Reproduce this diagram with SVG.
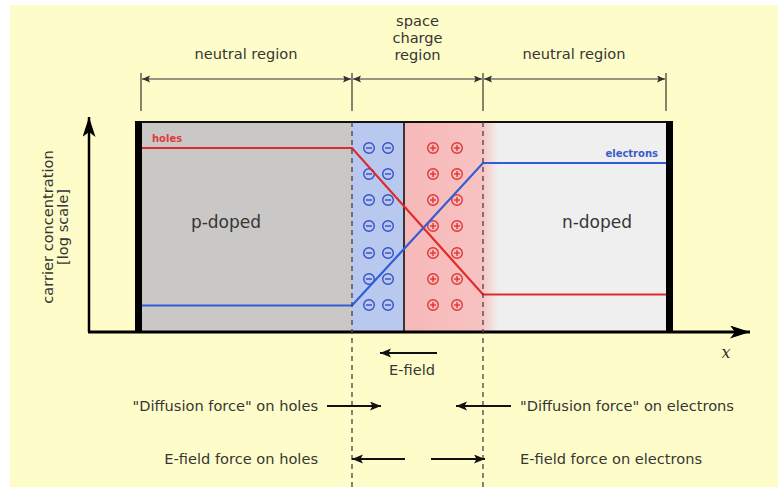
<svg xmlns="http://www.w3.org/2000/svg" width="778" height="487" viewBox="0 0 778 487">
<defs>
<style>
.lbl{font-family:"DejaVu Sans","Liberation Sans",sans-serif;font-size:14.6px;fill:#363636}
.big{font-family:"DejaVu Sans","Liberation Sans",sans-serif;font-size:17px;fill:#363636}
.small{font-family:"DejaVu Sans","Liberation Sans",sans-serif;font-size:10px;font-weight:bold}
.dim{stroke:#333;stroke-width:1.2;fill:none}
.frc{stroke:#111;stroke-width:2;fill:none}
.dash{stroke:#444;stroke-width:1.3;stroke-dasharray:5 4;fill:none}
.minus{stroke:#3550c4;stroke-width:1.4;fill:none}
.plus{stroke:#e03535;stroke-width:1.4;fill:none}
</style>
<linearGradient id="pinkfade" x1="404" y1="0" x2="498" y2="0" gradientUnits="userSpaceOnUse">
<stop offset="0" stop-color="#f7b8b8"/>
<stop offset="0.83" stop-color="#f8c2c2"/>
<stop offset="1" stop-color="#efefef"/>
</linearGradient>
<marker id="dh" markerUnits="userSpaceOnUse" markerWidth="10" markerHeight="8" refX="8" refY="3.5" orient="auto-start-reverse">
<path d="M0,0 L8,3.5 L0,7 L1.5,3.5z" fill="#333"/>
</marker>
<marker id="fh" markerUnits="userSpaceOnUse" markerWidth="12" markerHeight="10" refX="11" refY="4.5" orient="auto-start-reverse">
<path d="M0,0 L11,4.5 L0,9 L2.5,4.5z" fill="#111"/>
</marker>
<marker id="axh" markerUnits="userSpaceOnUse" markerWidth="22" markerHeight="14" refX="20" refY="6.5" orient="auto-start-reverse">
<path d="M0,0 L20,6.5 L0,13 L5,6.5z" fill="#000"/>
</marker>
<g id="mc"><circle r="5.3" class="minus"/><line x1="-3" y1="0" x2="3" y2="0" class="minus"/></g>
<g id="pc"><circle r="5.3" class="plus"/><line x1="-3" y1="0" x2="3" y2="0" class="plus"/><line x1="0" y1="-3" x2="0" y2="3" class="plus"/></g>
</defs>

<rect x="0" y="0" width="778" height="487" fill="#ffffff"/>
<rect x="10" y="5" width="768" height="482" fill="#fefdc9"/>

<g id="regions">
<rect x="141" y="122" width="211" height="210" fill="#c9c8c6"/>
<rect x="483" y="122" width="184" height="210" fill="#efefef"/>
<rect x="352" y="122" width="52" height="210" fill="#b8c8ef"/>
<rect x="404" y="122" width="94" height="210" fill="url(#pinkfade)"/>
</g>

<g id="charges">
<use href="#mc" x="369" y="148"/><use href="#mc" x="388" y="148"/>
<use href="#mc" x="369" y="174"/><use href="#mc" x="388" y="174"/>
<use href="#mc" x="369" y="200"/><use href="#mc" x="388" y="200"/>
<use href="#mc" x="369" y="226"/><use href="#mc" x="388" y="226"/>
<use href="#mc" x="369" y="253"/><use href="#mc" x="388" y="253"/>
<use href="#mc" x="369" y="279"/><use href="#mc" x="388" y="279"/>
<use href="#mc" x="369" y="305"/><use href="#mc" x="388" y="305"/>
<use href="#pc" x="433" y="148"/><use href="#pc" x="457" y="148"/>
<use href="#pc" x="433" y="174"/><use href="#pc" x="457" y="174"/>
<use href="#pc" x="433" y="200"/><use href="#pc" x="457" y="200"/>
<use href="#pc" x="433" y="226"/><use href="#pc" x="457" y="226"/>
<use href="#pc" x="433" y="253"/><use href="#pc" x="457" y="253"/>
<use href="#pc" x="433" y="279"/><use href="#pc" x="457" y="279"/>
<use href="#pc" x="433" y="305"/><use href="#pc" x="457" y="305"/>
</g>

<g id="junction">
<line x1="404" y1="122" x2="404" y2="332" stroke="#111" stroke-width="1.6"/>
</g>

<g id="curves" fill="none" stroke-width="2.2" stroke-linejoin="miter">
<polyline points="142,148 352,148 483,294.5 666,294.5" stroke="#e02a2a"/>
<polyline points="142,305.5 352,305.5 483,163 666,163" stroke="#2e5fd6"/>
</g>

<g id="frame">
<line x1="136" y1="122" x2="673" y2="122" stroke="#111" stroke-width="2"/>
<rect x="135" y="121" width="7" height="212" fill="#000"/>
<rect x="666" y="121" width="7" height="212" fill="#000"/>
</g>

<g id="connectors">
<line x1="89" y1="332" x2="89" y2="117" stroke="#000" stroke-width="2.5" marker-end="url(#axh)"/>
<line x1="88" y1="332" x2="750" y2="332" stroke="#000" stroke-width="3" marker-end="url(#axh)"/>
<line x1="352" y1="122" x2="352" y2="487" class="dash"/>
<line x1="483" y1="122" x2="483" y2="487" class="dash"/>
<line x1="141" y1="73" x2="141" y2="111" class="dim"/>
<line x1="352" y1="73" x2="352" y2="111" class="dim"/>
<line x1="483" y1="73" x2="483" y2="111" class="dim"/>
<line x1="666" y1="73" x2="666" y2="111" class="dim"/>
<line x1="142" y1="79" x2="351" y2="79" class="dim" marker-start="url(#dh)" marker-end="url(#dh)"/>
<line x1="353" y1="79" x2="482" y2="79" class="dim" marker-start="url(#dh)" marker-end="url(#dh)"/>
<line x1="484" y1="79" x2="665" y2="79" class="dim" marker-start="url(#dh)" marker-end="url(#dh)"/>
<line x1="437" y1="353" x2="380" y2="353" class="frc" marker-end="url(#fh)"/>
<line x1="327" y1="406" x2="381" y2="406" class="frc" marker-end="url(#fh)"/>
<line x1="511" y1="406" x2="456" y2="406" class="frc" marker-end="url(#fh)"/>
<line x1="405" y1="459" x2="352" y2="459" class="frc" marker-end="url(#fh)"/>
<line x1="431" y1="459" x2="485" y2="459" class="frc" marker-end="url(#fh)"/>
</g>

<g id="labels">
<text class="lbl" x="246" y="59" text-anchor="middle">neutral region</text>
<text class="lbl" x="417.5" y="25.5" text-anchor="middle">space</text>
<text class="lbl" x="417.5" y="42.5" text-anchor="middle">charge</text>
<text class="lbl" x="417.5" y="59.5" text-anchor="middle">region</text>
<text class="lbl" x="574" y="59" text-anchor="middle">neutral region</text>
<text class="small" x="152" y="142" fill="#e03a3a">holes</text>
<text class="small" x="658" y="157" fill="#3a5ccc" text-anchor="end">electrons</text>
<text class="big" x="226" y="228" text-anchor="middle">p-doped</text>
<text class="big" x="597" y="228" text-anchor="middle">n-doped</text>
<text class="lbl" transform="translate(53,227) rotate(-90)" text-anchor="middle">carrier concentration</text>
<text class="lbl" transform="translate(68,227) rotate(-90)" text-anchor="middle">[log scale]</text>
<text x="726" y="358" text-anchor="middle" font-family="DejaVu Serif, Liberation Serif, serif" font-style="italic" font-size="16" fill="#333">x</text>
<text class="lbl" x="412" y="375" text-anchor="middle">E-field</text>
<text class="lbl" x="318" y="411" text-anchor="end">"Diffusion force" on holes</text>
<text class="lbl" x="520" y="411">"Diffusion force" on electrons</text>
<text class="lbl" x="318" y="464" text-anchor="end">E-field force on holes</text>
<text class="lbl" x="520" y="464">E-field force on electrons</text>
</g>
</svg>
